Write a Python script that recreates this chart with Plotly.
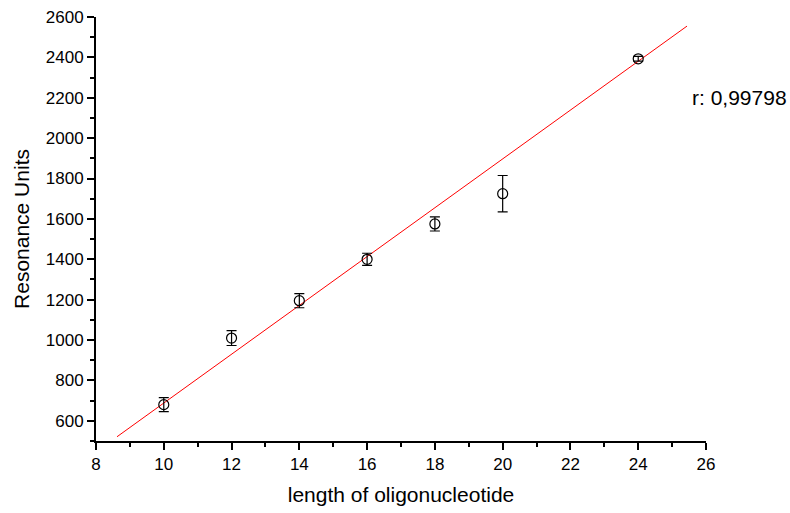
import plotly.graph_objects as go

length = [10, 12, 14, 16, 18, 20, 24]
ru = [680, 1010, 1195, 1400, 1575, 1725, 2393]
ru_err = [35, 37, 35, 30, 35, 90, 12]

fit_x = [8.62, 25.44]
fit_y = [521, 2555]

r_text = "r: 0,99798"

fig = go.Figure()
fig.add_trace(go.Scatter(
    x=fit_x, y=fit_y, mode="lines",
    line=dict(color="#ff0000", width=1), showlegend=False, hoverinfo="skip"))
fig.add_trace(go.Scatter(
    x=length, y=ru, mode="markers",
    marker=dict(symbol="circle-open", size=10, color="black", line=dict(width=1.2, color="black")),
    error_y=dict(type="data", array=ru_err, visible=True, color="black", thickness=1.2, width=5),
    showlegend=False))

font_family = "Liberation Sans, Arial, sans-serif"
fig.update_layout(
    width=790, height=513,
    margin=dict(l=96, r=84, t=17, b=72),
    paper_bgcolor="white", plot_bgcolor="white",
    font=dict(family=font_family, color="black", size=17),
    xaxis=dict(range=[8, 26], dtick=2, tick0=0, showgrid=False, zeroline=False,
               showline=True, linecolor="black", linewidth=2, automargin=False,
               ticks="outside", ticklen=7, tickwidth=2, tickcolor="black",
               minor=dict(dtick=1, ticks="outside", ticklen=4, tickwidth=2, tickcolor="black"),
               tickfont=dict(size=17),
               title=dict(text="length of oligonucleotide", font=dict(size=21), standoff=14)),
    yaxis=dict(range=[500, 2600], dtick=200, tick0=0, showgrid=False, zeroline=False,
               showline=True, linecolor="black", linewidth=2, automargin=False,
               ticks="outside", ticklen=7, tickwidth=2, tickcolor="black",
               minor=dict(dtick=100, ticks="outside", ticklen=4, tickwidth=2, tickcolor="black"),
               tickfont=dict(size=17),
               title=dict(text="Resonance Units", font=dict(size=21), standoff=10)),
    annotations=[dict(text=r_text, xref="paper", yref="paper", x=0.974, y=0.811,
                      xanchor="left", yanchor="middle", showarrow=False,
                      font=dict(size=21, family=font_family))],
)

fig.write_html("out.html")
